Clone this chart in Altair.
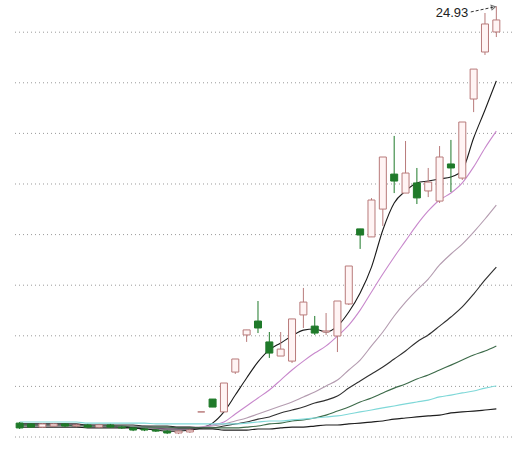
import altair as alt
import pandas as pd

# ---- candle data (index, open, high, low, close) ----
opens = [5.16, 5.12, 4.97, 5.02, 5.12, 5.02, 5.07, 4.97, 5.07, 4.97, 4.93, 4.88, 4.83, 4.78, 4.69, 4.74,
         5.69, 6.30, 5.69, 7.58, 9.34, 10.00, 9.01, 8.34, 8.10, 10.29, 9.76, 9.48, 9.29, 10.81,
         14.37, 13.99, 15.31, 16.97, 16.07, 16.55, 16.17, 15.69, 17.45, 16.78, 20.53, 22.76, 23.71]
highs = [5.21, 5.16, 5.16, 5.16, 5.16, 5.12, 5.12, 5.12, 5.12, 5.02, 4.97, 4.93, 4.88, 4.83, 4.83, 4.88,
         5.69, 6.30, 7.06, 8.20, 9.58, 10.95, 9.48, 9.48, 10.10, 11.57, 10.24, 10.38, 10.95, 12.61,
         14.37, 15.83, 17.78, 18.78, 18.54, 17.26, 17.26, 18.30, 18.59, 19.44, 21.95, 24.61, 24.93]
lows = [4.88, 4.93, 4.93, 4.97, 4.97, 4.97, 4.93, 4.93, 4.93, 4.88, 4.78, 4.78, 4.74, 4.64, 4.64, 4.69,
        5.69, 5.92, 5.69, 7.49, 9.01, 9.43, 8.25, 8.34, 8.01, 9.67, 9.34, 9.34, 8.53, 10.76,
        13.42, 13.99, 14.51, 16.07, 16.07, 15.55, 15.88, 15.60, 16.12, 16.69, 19.91, 22.62, 23.47]
closes = [4.93, 4.97, 5.12, 5.12, 5.02, 5.07, 4.97, 5.07, 4.97, 4.93, 4.83, 4.83, 4.78, 4.69, 4.78, 4.83,
          5.69, 5.92, 7.06, 8.20, 9.58, 9.67, 8.48, 8.67, 10.10, 10.90, 9.43, 9.53, 10.95, 12.61,
          14.08, 15.74, 17.78, 16.64, 17.02, 15.84, 16.59, 17.78, 17.26, 19.44, 21.95, 24.09, 24.28]

# ---- moving averages ----
ma5 = [5.07, 5.07, 5.07, 5.07, 5.07, 5.07, 5.02, 5.02, 5.02, 4.97, 4.93, 4.88, 4.83, 4.78, 4.78, 4.83,
       4.93, 5.16, 5.69, 6.49, 7.30, 8.06, 8.63, 8.96, 9.29, 9.57, 9.62, 9.48, 9.76, 10.43,
       11.33, 12.56, 14.32, 15.60, 16.17, 16.55, 16.64, 16.74, 16.83, 17.16, 18.68, 20.01, 21.39]
ma10 = [5.12, 5.12, 5.07, 5.07, 5.07, 5.07, 5.07, 5.02, 5.02, 5.02, 4.97, 4.97, 4.93, 4.88, 4.88, 4.88,
        4.97, 5.07, 5.21, 5.59, 5.97, 6.35, 6.73, 7.20, 7.68, 8.10, 8.48, 8.82, 9.29, 9.81,
        10.52, 11.38, 12.23, 13.04, 13.80, 14.56, 15.22, 15.74, 16.07, 16.55, 17.31, 18.21, 19.01]
ma20 = [5.12, 5.12, 5.12, 5.12, 5.12, 5.07, 5.07, 5.07, 5.07, 5.02, 5.02, 5.02, 4.97, 4.97, 4.97, 4.97,
        4.97, 5.02, 5.12, 5.26, 5.40, 5.59, 5.78, 5.97, 6.16, 6.40, 6.63, 6.92, 7.20, 7.68,
        8.15, 8.82, 9.48, 10.24, 10.90, 11.47, 11.99, 12.66, 13.18, 13.65, 14.22, 14.84, 15.50]
ma30 = [5.12, 5.12, 5.12, 5.12, 5.12, 5.12, 5.07, 5.07, 5.07, 5.07, 5.07, 5.02, 5.02, 5.02, 4.97, 4.97,
        4.93, 4.93, 5.02, 5.12, 5.21, 5.35, 5.45, 5.64, 5.78, 5.92, 6.11, 6.25, 6.44, 6.82,
        7.16, 7.49, 7.82, 8.20, 8.58, 9.01, 9.34, 9.76, 10.19, 10.67, 11.28, 11.95, 12.56]
ma60 = [5.07, 5.07, 5.07, 5.07, 5.07, 5.02, 5.02, 5.02, 5.02, 5.02, 4.97, 4.97, 4.97, 4.97, 4.93, 4.93,
        4.93, 4.93, 4.93, 4.93, 4.97, 5.02, 5.12, 5.16, 5.26, 5.31, 5.40, 5.54, 5.73, 5.92,
        6.16, 6.35, 6.59, 6.82, 7.01, 7.25, 7.44, 7.68, 7.91, 8.15, 8.39, 8.58, 8.82]
ma120 = [5.21, 5.21, 5.21, 5.21, 5.21, 5.21, 5.16, 5.16, 5.16, 5.16, 5.16, 5.16, 5.12, 5.12, 5.12, 5.12,
         5.12, 5.12, 5.12, 5.12, 5.16, 5.21, 5.26, 5.26, 5.31, 5.35, 5.40, 5.45, 5.50, 5.59,
         5.69, 5.78, 5.88, 5.97, 6.07, 6.16, 6.25, 6.40, 6.49, 6.59, 6.68, 6.82, 6.92]
ma250 = [4.97, 4.97, 4.97, 4.97, 4.97, 4.97, 4.93, 4.93, 4.93, 4.93, 4.93, 4.88, 4.88, 4.88, 4.88, 4.88,
         4.88, 4.88, 4.83, 4.83, 4.83, 4.88, 4.88, 4.93, 4.97, 4.97, 5.02, 5.07, 5.07, 5.12,
         5.16, 5.21, 5.26, 5.35, 5.40, 5.45, 5.50, 5.54, 5.64, 5.69, 5.73, 5.78, 5.83]

ma_names = ["MA5", "MA10", "MA20", "MA30", "MA60", "MA120", "MA250"]
ma_colors = ["#1a1a1a", "#c888cc", "#b49cb0", "#303030", "#3d6b4a", "#7fd8d8", "#1e1e1e"]
ma_widths = [1.1, 1.2, 1.0, 1.2, 1.2, 1.8, 1.4]

grid_values = [4.5, 6.9, 9.3, 11.7, 14.1, 16.5, 18.9, 21.3, 23.7]

label_text = ["24.93"]
arrow_x = [39.75]
arrow_x2 = [41.75]
arrow_y = [24.66]
arrow_y2 = [24.89]

# ---- tables ----
idx = list(range(len(opens)))
candles = pd.DataFrame({"i": idx, "open": opens, "high": highs, "low": lows, "close": closes})
candles["dir"] = ["up" if c >= o else "down" for o, c in zip(opens, closes)]

ma_rows = []
for name, vals in zip(ma_names, [ma5, ma10, ma20, ma30, ma60, ma120, ma250]):
    for i, v in enumerate(vals):
        ma_rows.append({"i": i, "v": v, "ma": name})
ma_df = pd.DataFrame(ma_rows)

grid_df = pd.DataFrame({"v": grid_values})

xs = alt.Scale(domain=[-0.233, 42.94], nice=False, zero=False)
ys = alt.Scale(domain=[3.836, 25.227], nice=False, zero=False)

X = alt.X("i:Q", scale=xs, axis=None)

grid = alt.Chart(grid_df).mark_rule(strokeDash=[1, 3], color="#9a9a9a", strokeWidth=1).encode(
    y=alt.Y("v:Q", scale=ys, axis=None)
)

lines = alt.Chart(ma_df).mark_line(interpolate="monotone").encode(
    x=X,
    y=alt.Y("v:Q", scale=ys, axis=None),
    color=alt.Color("ma:N", scale=alt.Scale(domain=ma_names, range=ma_colors), legend=None),
    strokeWidth=alt.StrokeWidth("ma:N", scale=alt.Scale(domain=ma_names, range=ma_widths), legend=None),
    detail="ma:N",
)

dir_scale_stroke = alt.Scale(domain=["up", "down"], range=["#b87a7a", "#1f7a2a"])
dir_scale_fill = alt.Scale(domain=["up", "down"], range=["#fff4f4", "#1f7a2a"])

wicks = alt.Chart(candles).mark_rule(strokeWidth=1).encode(
    x=X,
    y=alt.Y("low:Q", scale=ys, axis=None),
    y2="high:Q",
    stroke=alt.Stroke("dir:N", scale=dir_scale_stroke, legend=None),
)

bodies = alt.Chart(candles).mark_bar(size=7, strokeWidth=1).encode(
    x=X,
    y=alt.Y("open:Q", scale=ys, axis=None),
    y2="close:Q",
    fill=alt.Fill("dir:N", scale=dir_scale_fill, legend=None),
    stroke=alt.Stroke("dir:N", scale=dir_scale_stroke, legend=None),
)

last = len(opens) - 1
label_df = pd.DataFrame({"i": [last], "v": [highs[last]], "t": label_text})
label = alt.Chart(label_df).mark_text(
    align="right", baseline="middle", dx=-28, dy=7, fontSize=13, font="Liberation Sans", color="#222222"
).encode(x=X, y=alt.Y("v:Q", scale=ys, axis=None), text="t:N")

arrow_df = pd.DataFrame({"x": arrow_x, "x2": arrow_x2, "y": arrow_y, "y2": arrow_y2})
arrow_line = alt.Chart(arrow_df).mark_rule(strokeDash=[3, 2], color="#333333", strokeWidth=1).encode(
    x=alt.X("x:Q", scale=xs, axis=None), x2="x2:Q",
    y=alt.Y("y:Q", scale=ys, axis=None), y2="y2:Q",
)
arrow_head = alt.Chart(arrow_df).mark_point(
    shape="triangle-right", filled=False, size=22, angle=348, color="#333333", strokeWidth=1
).encode(x=alt.X("x2:Q", scale=xs, axis=None), y=alt.Y("y2:Q", scale=ys, axis=None))

chart = alt.layer(grid, lines, wicks, bodies, label, arrow_line, arrow_head).properties(
    width=500, height=451,
    autosize=alt.AutoSizeParams(type="none"),
    padding={"left": 12, "right": 9, "top": 0, "bottom": 0},
    background="white",
).configure_view(stroke=None)

chart.save("out.html", embed_options={"renderer": "svg", "actions": False})
